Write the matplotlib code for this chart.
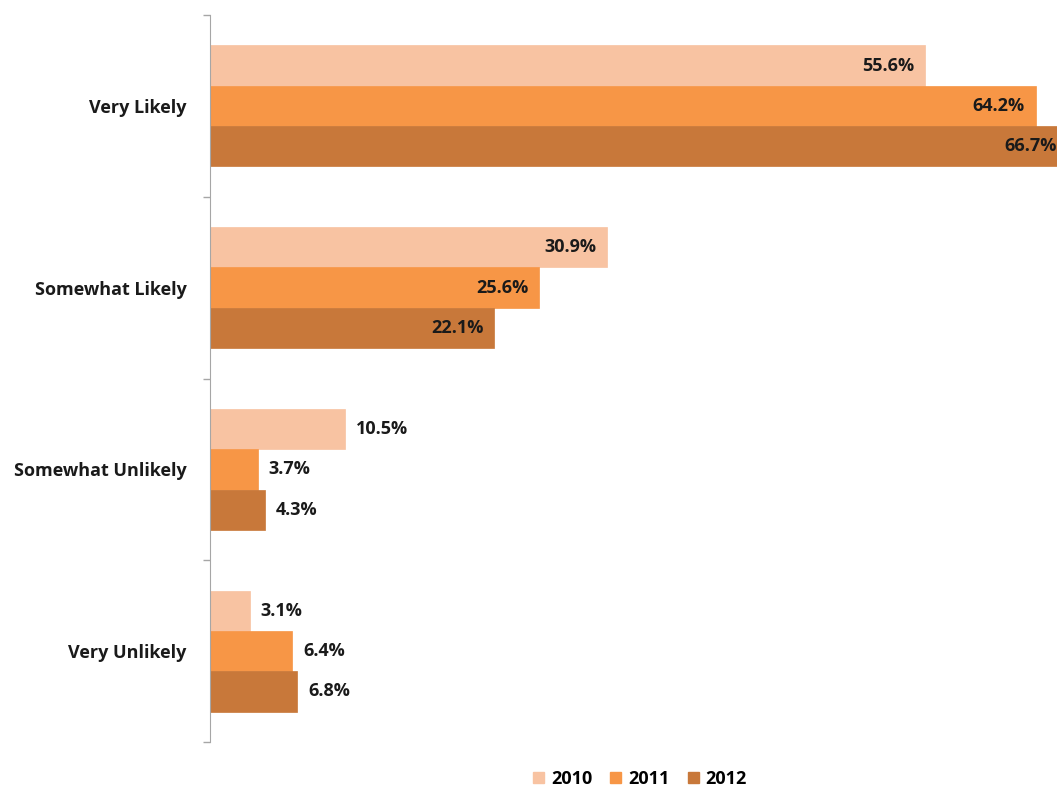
import numpy as np
import matplotlib.pyplot as plt
from matplotlib.patches import Patch

categories = ['Very Likely', 'Somewhat Likely', 'Somewhat Unlikely', 'Very Unlikely']
years = ['2010', '2011', '2012']
values = {
    '2010': [55.6, 30.9, 10.5, 3.1],
    '2011': [64.2, 25.6, 3.7, 6.4],
    '2012': [66.7, 22.1, 4.3, 6.8],
}
colors = ['#F8C3A2', '#F79646', '#C8783A']

plt.rcParams['font.family'] = ['Open Sans', 'DejaVu Sans']

fig = plt.figure(figsize=(10.57, 7.9), dpi=100)
ax = fig.add_axes([210 / 1057, 1 - 742 / 790, 1 - 210 / 1057, (742 - 15) / 790])

y = np.arange(len(categories))
h = 0.222
xmax = (1057 - 210) / 12.86

for i, yr in enumerate(years):
    pos = y + (i - 1) * h
    ax.barh(pos, values[yr], height=h, color=colors[i], edgecolor=colors[i], linewidth=0.5)
    for p, v in zip(pos, values[yr]):
        lab = f'{v:.1f}%'
        if v > 15:
            ax.text(v - 0.85, p, lab, ha='right', va='center',
                    fontsize=13, fontweight='bold', color='#1a1a1a', clip_on=False)
        else:
            ax.text(v + 0.85, p, lab, ha='left', va='center',
                    fontsize=13, fontweight='bold', color='#1a1a1a')

ax.set_xlim(0, xmax)
ax.set_ylim(len(categories) - 0.5, -0.5)
ax.set_yticks(y)
ax.set_yticklabels(categories, fontsize=13, fontweight='bold', color='#1a1a1a')
ax.tick_params(axis='y', length=0, pad=17)
ax.set_yticks(np.arange(-0.5, len(categories)), minor=True)
ax.tick_params(axis='y', which='minor', length=5, color='#a6a6a6', width=1)
ax.set_xticks([])
for s in ['top', 'right', 'bottom']:
    ax.spines[s].set_visible(False)
ax.spines['left'].set_color('#a6a6a6')

handles = [Patch(facecolor=c, edgecolor=c) for c in colors]
fig.legend(handles, years, loc='center', bbox_to_anchor=(640 / 1057, 1 - 779 / 790),
           ncol=3, frameon=False, handlelength=0.6, handleheight=0.6,
           handletextpad=0.4, columnspacing=1.0,
           prop={'weight': 'bold', 'size': 13})

fig.savefig('out.png', dpi=100)
